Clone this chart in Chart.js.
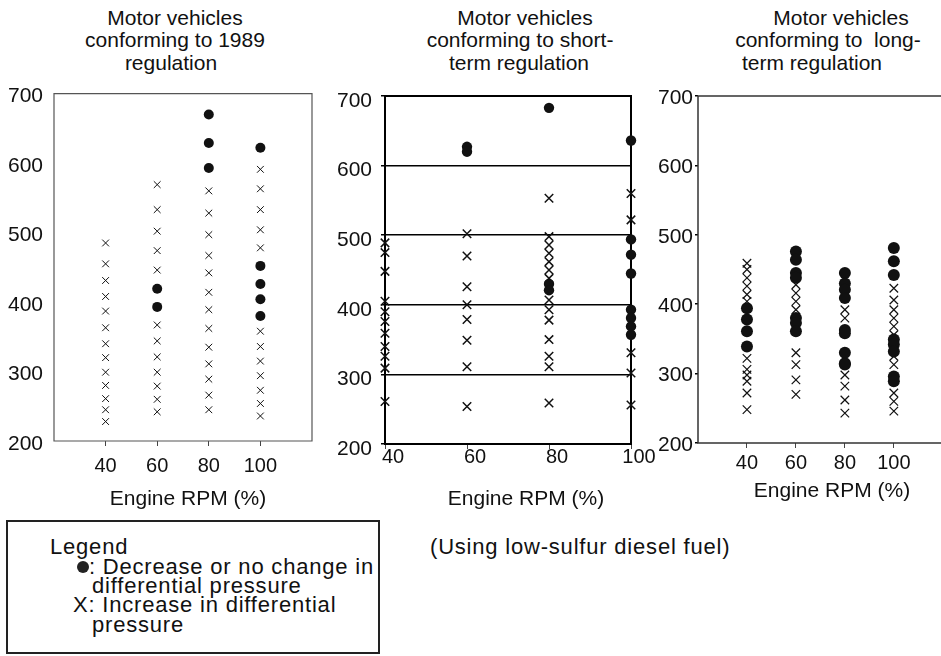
<!DOCTYPE html>
<html>
<head>
<meta charset="utf-8">
<title>Differential pressure vs engine RPM</title>
<script src="https://cdn.jsdelivr.net/npm/chart.js@4.4.1/dist/chart.umd.min.js"></script>
<style>
  html, body { margin: 0; padding: 0; background: #fff; overflow: hidden; }
  body { position: relative; width: 941px; height: 656px; font-family: "Liberation Sans", Arial, sans-serif; color: #111; }
  canvas { position: absolute; }
  .line { position: absolute; font-size: 21px; line-height: 22px; white-space: pre; }
  .ctr { width: 300px; text-align: center; }
  .leg { font-size: 22px; letter-spacing: 0.8px; }
  #legendBox { position: absolute; left: 6px; top: 520px; width: 374px; height: 134px; box-sizing: border-box; border: 2px solid #222; }
  .dot { display: inline-block; width: 12px; height: 12px; border-radius: 50%; background: #222; vertical-align: 1px; }
</style>
</head>
<body>

<!-- panel titles -->
<div class="line ctr" style="left:25px;top:7px">Motor vehicles</div>
<div class="line ctr" style="left:25px;top:29px">conforming to 1989</div>
<div class="line ctr" style="left:21px;top:52px">regulation</div>

<div class="line ctr" style="left:375px;top:7px">Motor vehicles</div>
<div class="line ctr" style="left:370px;top:29px">conforming to short-</div>
<div class="line ctr" style="left:369px;top:52px">term regulation</div>

<div class="line ctr" style="left:691px;top:7px">Motor vehicles</div>
<div class="line ctr" style="left:678px;top:29px">conforming to  long-</div>
<div class="line ctr" style="left:662px;top:52px">term regulation</div>

<canvas id="reg1989" width="340" height="420" style="left:0;top:70px"></canvas>
<canvas id="regShort" width="345" height="420" style="left:320px;top:70px"></canvas>
<canvas id="regLong" width="310" height="420" style="left:640px;top:70px"></canvas>

<!-- x axis titles -->
<div class="line ctr" style="left:38px;top:487px">Engine RPM (%)</div>
<div class="line ctr" style="left:376px;top:487px">Engine RPM (%)</div>
<div class="line ctr" style="left:682px;top:479px">Engine RPM (%)</div>

<div id="legendBox"></div>
<div class="line leg" style="left:50px;top:536px">Legend</div>
<div class="line leg" style="left:77px;top:556px"><span class="dot"></span>: Decrease or no change in</div>
<div class="line leg" style="left:92px;top:575px">differential pressure</div>
<div class="line leg" style="left:73px;top:594px">X: Increase in differential</div>
<div class="line leg" style="left:92px;top:614px">pressure</div>

<div class="line leg" style="left:430px;top:536px">(Using low-sulfur diesel fuel)</div>

<script>
const rpm = [40, 60, 80, 100];
const yTicks = [200, 300, 400, 500, 600, 700];

// 1989 regulation: one list of readings per RPM step
const reg1989Dots = [
    [],
    [419, 393],
    [670, 629, 593],
    [622, 452, 426, 404, 380]
];
const reg1989Xs = [
    [485, 455, 431, 408, 387, 363, 340, 320, 299, 280, 261, 245, 228],
    [569, 533, 502, 474, 446, 367, 344, 321, 299, 279, 260, 242],
    [560, 528, 497, 467, 442, 414, 389, 362, 335, 311, 289, 266, 245],
    [591, 563, 533, 504, 478, 358, 336, 315, 294, 273, 254, 236]
];

// short-term regulation
const shortDots = [
    [],
    [627, 620],
    [683, 430, 421],
    [636, 494, 472, 445, 393, 381, 369, 357]
];
const shortXs = [
    [489, 475, 448, 405, 390, 376, 359, 340, 326, 309, 261],
    [502, 470, 426, 400, 379, 349, 311, 254],
    [553, 498, 486, 474, 462, 450, 438, 407, 393, 378, 350, 326, 311, 259],
    [560, 522, 331, 302, 256]
];

// long-term regulation
const longDots = [
    [394, 378, 361, 339],
    [476, 464, 445, 438, 380, 373, 361],
    [445, 430, 421, 409, 363, 358, 330, 315, 313],
    [481, 462, 442, 349, 342, 332, 296, 289]
];
const longXs = [
    [459, 450, 438, 426, 414, 404, 322, 306, 298, 289, 272, 248],
    [428, 416, 404, 392, 330, 313, 291, 270],
    [392, 380, 298, 282, 262, 243],
    [423, 406, 392, 380, 368, 356, 325, 313, 272, 260, 246]
];

const ink = '#111';
Chart.defaults.font.family = '"Liberation Sans", Arial, sans-serif';
Chart.defaults.color = ink;

// box around the plot area (right side can be left open)
const framePlugin = {
    id: 'frame',
    beforeDatasetsDraw(chart, args, opts) {
        const { left, top, right, bottom } = chart.chartArea;
        const ctx = chart.ctx;
        ctx.save();
        ctx.strokeStyle = opts.color;
        ctx.lineWidth = opts.width;
        ctx.beginPath();
        if (opts.openRight) {
            ctx.moveTo(chart.width, top);
            ctx.lineTo(left, top);
            ctx.lineTo(left, bottom);
            ctx.lineTo(chart.width, bottom);
        } else {
            ctx.rect(left, top, right - left, bottom - top);
        }
        ctx.stroke();
        ctx.restore();
    }
};

function toPoints(groups) {
    const pts = [];
    groups.forEach((vals, i) => vals.forEach(v => pts.push({ x: rpm[i], y: v })));
    return pts;
}

function drawPanel(id, dots, xs, look) {
    new Chart(document.getElementById(id), {
        type: 'scatter',
        data: {
            datasets: [{
                data: toPoints(dots),
                pointStyle: 'circle',
                pointRadius: look.dotRadius,
                backgroundColor: ink,
                borderColor: ink,
                borderWidth: 0,
                clip: false
            }, {
                data: toPoints(xs),
                pointStyle: 'crossRot',
                pointRadius: look.crossRadius,
                borderColor: ink,
                borderWidth: look.crossWidth,
                clip: false
            }]
        },
        plugins: [framePlugin],
        options: {
            responsive: false,
            animation: false,
            events: [],
            layout: { padding: look.padding },
            plugins: {
                legend: { display: false },
                tooltip: { enabled: false },
                frame: { color: look.frameColor, width: look.frameWidth, openRight: !!look.openRight }
            },
            scales: {
                x: {
                    type: 'linear',
                    min: look.xMin,
                    max: look.xMax,
                    afterBuildTicks: s => { s.ticks = rpm.map(v => ({ value: v })); },
                    afterFit: s => { s.height = look.xAxisHeight; },
                    border: { display: false },
                    grid: { drawOnChartArea: false, tickLength: 5, color: '#444', lineWidth: 1 },
                    ticks: { font: { size: 20 }, padding: look.xPad, labelOffset: look.xLabelOffset, maxRotation: 0 }
                },
                y: {
                    min: 200,
                    max: 700,
                    afterBuildTicks: s => { s.ticks = yTicks.map(v => ({ value: v })); },
                    afterFit: s => { s.width = look.yAxisWidth; },
                    border: { display: false },
                    grid: {
                        drawOnChartArea: look.hLines,
                        drawTicks: look.yTickLen > 0,
                        tickLength: look.yTickLen,
                        color: '#000',
                        lineWidth: 1.5
                    },
                    ticks: { font: { size: 21 }, padding: look.yPad, labelOffset: look.yLabelOffset }
                }
            }
        }
    });
}

drawPanel('reg1989', reg1989Dots, reg1989Xs, {
    xMin: 20, xMax: 120,
    padding: { top: 23, right: 28, bottom: 0, left: 0 },
    yAxisWidth: 54, xAxisHeight: 49,
    yTickLen: 0, yPad: 11, yLabelOffset: 3,
    xPad: 8, xLabelOffset: 0,
    hLines: false,
    dotRadius: 5, crossRadius: 4.8, crossWidth: 1,
    frameColor: '#555', frameWidth: 1.2
});

drawPanel('regShort', shortDots, shortXs, {
    xMin: 40, xMax: 100,
    padding: { top: 26, right: 34, bottom: 0, left: 0 },
    yAxisWidth: 65, xAxisHeight: 46,
    yTickLen: 4, yPad: 9, yLabelOffset: 5,
    xPad: -4, xLabelOffset: 8,
    hLines: true,
    dotRadius: 5.2, crossRadius: 6, crossWidth: 1.5,
    frameColor: '#000', frameWidth: 2
});

drawPanel('regLong', longDots, longXs, {
    xMin: 20, xMax: 120,
    padding: { top: 26, right: 4.5, bottom: 0, left: 0 },
    yAxisWidth: 58, xAxisHeight: 47,
    yTickLen: 3, yPad: 2, yLabelOffset: 2,
    xPad: 3, xLabelOffset: 0,
    hLines: false,
    dotRadius: 6, crossRadius: 6, crossWidth: 1.2,
    frameColor: '#333', frameWidth: 1.5, openRight: true
});
</script>
</body>
</html>
